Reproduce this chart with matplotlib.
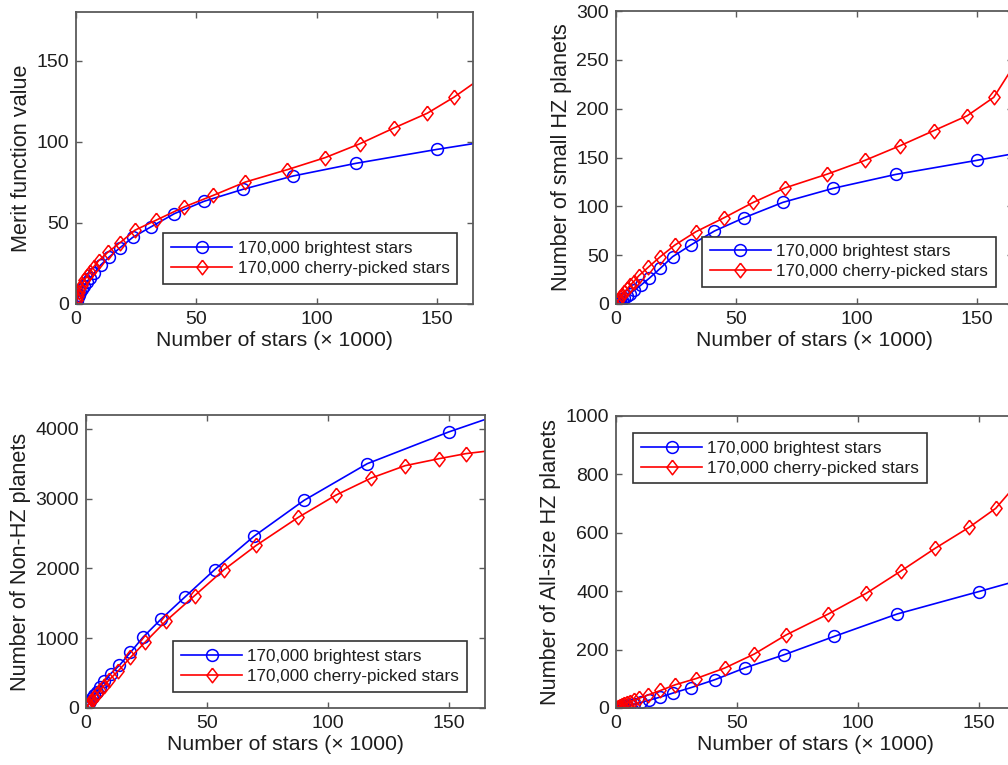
import matplotlib
matplotlib.use('Agg')
import matplotlib.pyplot as plt

plt.rcParams['font.family'] = ['Liberation Sans', 'DejaVu Sans']

# data, x = number of stars in thousands
x_bright = [0.3, 0.6, 0.9, 1.3, 1.8, 2.5, 3.3, 4.4, 5.8, 7.6, 10.2, 13.8, 18.4, 23.5,
            31.1, 40.9, 53.2, 69.4, 90.2, 116.3, 150, 170]
x_cherry = [0.3, 0.7, 1.2, 1.8, 2.5, 3.4, 4.5, 5.8, 7.4, 9.5, 13.4, 18.4, 24.5, 33.2,
            44.9, 57.1, 70.4, 87.8, 103.5, 118, 132, 146, 157, 170]

merit_bright = [2, 3.4, 4.5, 5.8, 7.3, 9, 11, 13.5, 16, 19.3, 24, 29, 34.8, 41,
                47.5, 55.7, 63.3, 70.7, 78.9, 86.7, 95.3, 100]
merit_cherry = [2.5, 5, 7.5, 10, 12, 14.5, 17, 20, 23, 26.8, 32.1, 37.9, 45.5, 51.6,
                59.8, 67, 75.2, 82.8, 90.2, 98.8, 108.4, 117.6, 127.4, 141]

small_bright = [0.5, 1, 1.6, 2.3, 3.2, 4.5, 6, 8, 10.5, 14, 19, 26.3, 36.5, 48.4,
                60.4, 74.7, 88.3, 104.1, 118.4, 132.7, 147.1, 156]
small_cherry = [1.3, 3, 5, 7, 9, 12, 15, 19, 23, 29, 37.6, 48.4, 60.4, 74,
                88.3, 104.1, 119, 133, 147.1, 162, 177.4, 192.8, 211.6, 262]

nonhz_bright = [18, 35, 52, 75, 100, 140, 180, 235, 300, 381, 492, 611, 797, 1012,
                1276, 1591, 1983, 2460, 2977, 3502, 3957, 4195]
nonhz_cherry = [15, 34, 58, 85, 115, 155, 200, 255, 320, 400, 535, 725, 946, 1252,
                1610, 1983, 2331, 2733, 3054, 3297, 3474, 3574, 3646, 3700]

allhz_bright = [0.4, 0.9, 1.4, 2, 3, 4, 5.5, 7.5, 10, 13.5, 19, 27, 37.6, 51,
                70, 97, 137, 182, 245, 322, 398.6, 445]
allhz_cherry = [1.2, 2.7, 4.5, 7, 9, 12.5, 16, 21, 26, 33, 45, 60, 79.6, 101,
                136.7, 184.5, 250.5, 322, 393, 470, 547, 618.6, 683.5, 808]

label_b = '170,000 brightest stars'
label_c = '170,000 cherry-picked stars'
xlabel = 'Number of stars (\u00d7 1000)'

W, H = 1008, 765
fig = plt.figure(figsize=(W / 100, H / 100), dpi=100)

def px_axes(left, top, right, bottom):
    return fig.add_axes([left / W, (H - bottom) / H, (right - left) / W, (bottom - top) / H])

diamond = [(0, 1), (0.77, 0), (0, -1), (-0.77, 0), (0, 1)]
text_col = '#1e1e1e'
frame_col = '#5a5a5a'

def panel(ax, yb, yc, ylabel, ylim, yticks, leg_loc, leg_anchor):
    ax.plot(x_bright, yb, '-', color='#0000ff', lw=1.2, marker='o', ms=8.5,
            mfc='none', mec='#0000ff', mew=1.1, label=label_b)
    ax.plot(x_cherry, yc, '-', color='#ff0000', lw=1.2, marker=diamond, ms=10.5,
            mfc='none', mec='#ff0000', mew=1.1, label=label_c)
    ax.set_xlim(0, 165)
    ax.set_ylim(*ylim)
    ax.set_xticks([0, 50, 100, 150])
    ax.set_yticks(yticks)
    ax.tick_params(direction='in', top=True, right=True, length=4, width=1,
                   color=frame_col, labelsize=14, labelcolor=text_col, pad=5)
    for s in ax.spines.values():
        s.set_color(frame_col)
        s.set_linewidth(1.3)
    ax.set_xlabel(xlabel, fontsize=15.3, color=text_col, labelpad=2)
    ax.set_ylabel(ylabel, fontsize=15.6, color=text_col, labelpad=3)
    leg = ax.legend(loc=leg_loc, bbox_to_anchor=leg_anchor, borderaxespad=0,
                    fontsize=12.3, fancybox=False, framealpha=1, edgecolor='#333333',
                    handlelength=3.6, labelspacing=0.3, borderpad=0.45, handletextpad=0.3)
    leg.get_frame().set_linewidth(1.2)
    for t in leg.get_texts():
        t.set_color(text_col)

ax1 = px_axes(76, 12, 473, 304)
panel(ax1, merit_bright, merit_cherry, 'Merit function value', (0, 180),
      [0, 50, 100, 150], 'lower right', (0.96, 0.07))

ax2 = px_axes(616, 11, 1013, 304)
panel(ax2, small_bright, small_cherry, 'Number of small HZ planets', (0, 300),
      [0, 50, 100, 150, 200, 250, 300], 'lower right', (0.957, 0.058))

ax3 = px_axes(86, 415, 485, 708)
panel(ax3, nonhz_bright, nonhz_cherry, 'Number of Non-HZ planets', (0, 4200),
      [0, 1000, 2000, 3000, 4000], 'lower right', (0.955, 0.055))

ax4 = px_axes(616, 416, 1015, 708)
panel(ax4, allhz_bright, allhz_cherry, 'Number of All-size HZ planets', (0, 1000),
      [0, 200, 400, 600, 800, 1000], 'upper left', (0.043, 0.942))

fig.savefig('out.png', dpi=100)
